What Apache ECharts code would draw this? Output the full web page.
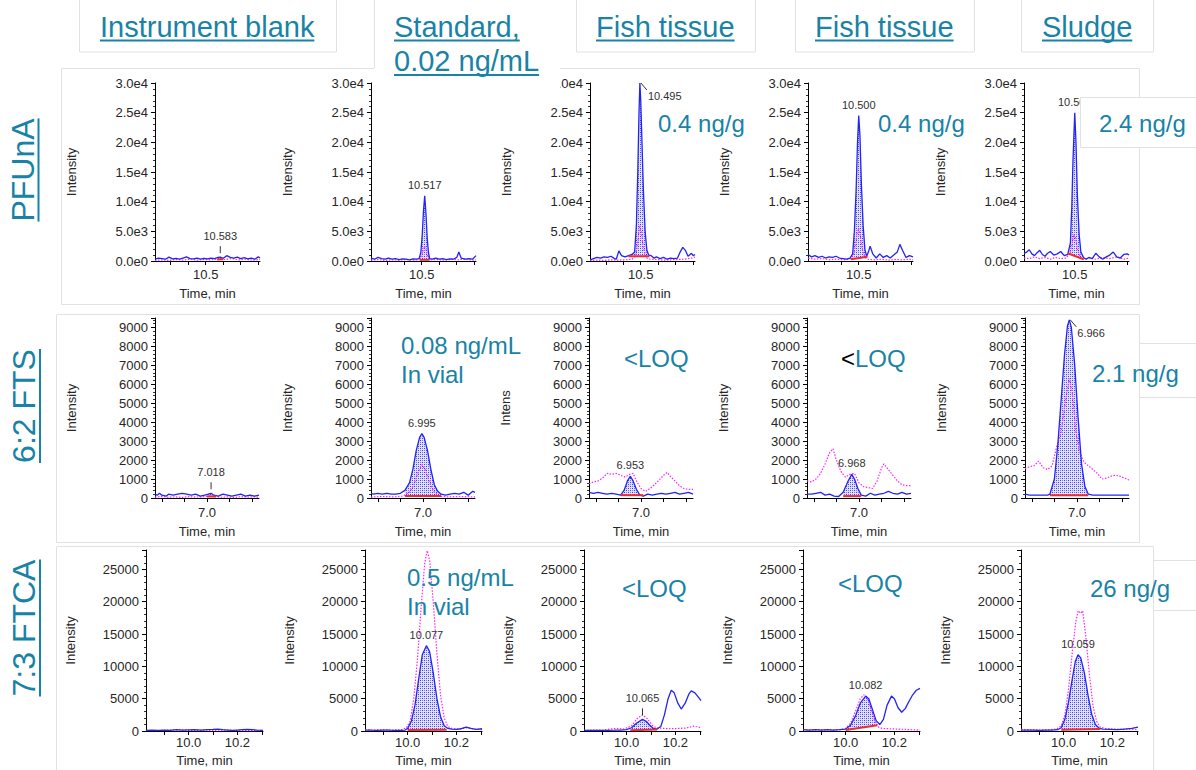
<!DOCTYPE html>
<html>
<head>
<meta charset="utf-8">
<title>PFAS chromatograms</title>
<script src="https://cdn.jsdelivr.net/npm/echarts@6/dist/echarts.min.js"></script>
<style>
  html, body { margin: 0; padding: 0; background: #ffffff; }
  #chart { width: 1196px; height: 770px; }
</style>
</head>
<body>
<div id="chart"></div>
<script>
// ---------------- captions ----------------
const sampleTitles = [['Instrument blank'], ['Standard,', '0.02 ng/mL'], ['Fish tissue'], ['Fish tissue'], ['Sludge']];
const analytes = ['PFUnA', '6:2 FTS', '7:3 FTCA'];

// ---------------- axis scales ----------------
const pfunaTime = [10.21, 10.81];
const pfunaIntensity = [0, 30000, 5000];
const pfunaXLabels = [10.5];
const pfunaXTicks = [10.3, 10.4, 10.5, 10.6, 10.7, 10.8];

const ftsTime = [6.77, 7.23];
const ftsIntensity = [0, 9500, 1000];
const ftsXLabels = [7.0];
const ftsXTicks = [6.8, 6.9, 7.0, 7.1, 7.2];

const ftcaTime = [9.825, 10.305];
const ftcaIntensity = [0, 28000, 5000];
const ftcaXLabels = [10.0, 10.2];
const ftcaXTicks = [9.9, 10.0, 10.1, 10.2, 10.3];

// ---------------- PFUnA traces: [time, intensity] ----------------
const pfuna_blank_quant = [[10.21,300],[10.23,500],[10.25,400],[10.27,300],[10.29,650],[10.31,350],[10.33,450],[10.35,300],[10.37,500],[10.39,700],[10.41,400],[10.43,350],[10.45,500],[10.47,300],[10.49,450],[10.51,350],[10.53,500],[10.55,400],[10.57,600],[10.583,650],[10.60,450],[10.62,900],[10.64,600],[10.66,500],[10.68,650],[10.70,400],[10.72,550],[10.74,350],[10.76,500],[10.78,300],[10.80,700],[10.81,500]];
const pfuna_blank_qual = [[10.21,100],[10.25,200],[10.29,100],[10.33,250],[10.37,150],[10.41,300],[10.45,150],[10.49,250],[10.53,200],[10.57,350],[10.61,250],[10.65,400],[10.69,200],[10.73,300],[10.77,150],[10.81,250]];
const pfuna_blank_base = [[10.565,250],[10.60,300]];
const pfuna_blank_rt = [10.583, 650];

const pfuna_std_quant = [[10.21,500],[10.23,300],[10.25,600],[10.27,400],[10.29,300],[10.31,500],[10.33,300],[10.35,400],[10.37,250],[10.39,350],[10.41,300],[10.43,200],[10.45,350],[10.47,300],[10.485,400],[10.495,1500],[10.503,4500],[10.51,8500],[10.517,11000],[10.524,8000],[10.531,4000],[10.538,1500],[10.545,400],[10.56,300],[10.58,500],[10.60,300],[10.62,400],[10.64,250],[10.66,350],[10.68,300],[10.70,600],[10.712,1500],[10.725,500],[10.75,300],[10.77,400],[10.79,300],[10.81,900]];
const pfuna_std_qual = [[10.21,150],[10.25,250],[10.29,100],[10.33,200],[10.37,150],[10.41,250],[10.45,150],[10.48,200],[10.50,900],[10.51,2000],[10.517,2500],[10.525,1800],[10.535,700],[10.55,200],[10.59,250],[10.63,150],[10.67,300],[10.71,200],[10.75,300],[10.79,150],[10.81,200]];
const pfuna_std_base = [[10.488,200],[10.545,200]];
const pfuna_std_rt = [10.517, 11000];

const pfuna_fish1_quant = [[10.21,200],[10.23,400],[10.25,600],[10.27,500],[10.29,700],[10.31,600],[10.33,800],[10.35,400],[10.36,300],[10.375,1700],[10.39,900],[10.41,700],[10.43,900],[10.45,1100],[10.465,1500],[10.475,6000],[10.483,15000],[10.49,25000],[10.495,30000],[10.50,27000],[10.507,20000],[10.515,12000],[10.525,5000],[10.535,1800],[10.545,1000],[10.56,900],[10.575,500],[10.59,700],[10.61,400],[10.63,600],[10.65,300],[10.67,500],[10.69,400],[10.71,500],[10.725,1500],[10.74,2300],[10.755,1800],[10.77,800],[10.79,1300],[10.80,900],[10.81,1100]];
const pfuna_fish1_qual = [[10.21,100],[10.25,150],[10.29,100],[10.33,200],[10.37,150],[10.41,200],[10.45,300],[10.47,800],[10.48,2500],[10.49,5000],[10.495,6000],[10.505,4500],[10.515,2200],[10.53,600],[10.55,300],[10.59,250],[10.63,150],[10.67,200],[10.71,250],[10.75,300],[10.79,500],[10.81,650]];
const pfuna_fish1_base = [[10.43,800],[10.55,800]];
const pfuna_fish1_rt = [10.495, 30000];

const pfuna_fish2_quant = [[10.21,1100],[10.23,700],[10.25,900],[10.27,600],[10.29,800],[10.31,500],[10.33,700],[10.35,600],[10.37,800],[10.39,500],[10.41,400],[10.43,300],[10.45,500],[10.465,1200],[10.475,5000],[10.485,12000],[10.493,20000],[10.50,24500],[10.507,21000],[10.515,13000],[10.525,6000],[10.535,2000],[10.545,800],[10.555,1500],[10.565,2500],[10.58,1200],[10.60,500],[10.62,1200],[10.64,600],[10.66,900],[10.68,500],[10.70,1000],[10.72,1500],[10.735,2800],[10.75,1800],[10.77,600],[10.79,900],[10.81,700]];
const pfuna_fish2_qual = [[10.21,500],[10.25,300],[10.29,400],[10.33,200],[10.37,300],[10.41,200],[10.45,300],[10.47,1000],[10.48,2500],[10.49,4500],[10.50,5500],[10.51,4000],[10.52,2000],[10.535,600],[10.55,300],[10.59,200],[10.63,300],[10.67,150],[10.71,250],[10.75,200],[10.79,300],[10.81,200]];
const pfuna_fish2_base = [[10.455,300],[10.55,700]];
const pfuna_fish2_rt = [10.500, 24500];

const pfuna_sludge_quant = [[10.21,1300],[10.225,1500],[10.24,1900],[10.255,1200],[10.27,900],[10.285,1400],[10.30,1800],[10.315,1100],[10.33,800],[10.345,1300],[10.36,1600],[10.38,1000],[10.40,1200],[10.42,1600],[10.44,900],[10.46,1100],[10.475,3000],[10.483,9000],[10.49,17000],[10.50,25000],[10.507,20000],[10.515,11000],[10.525,4500],[10.535,1500],[10.55,600],[10.565,300],[10.58,600],[10.60,400],[10.62,1300],[10.64,700],[10.66,300],[10.68,700],[10.70,1000],[10.72,1500],[10.74,700],[10.76,500],[10.78,1100],[10.80,1200],[10.81,1000]];
const pfuna_sludge_qual = [[10.21,500],[10.24,400],[10.27,700],[10.30,400],[10.33,600],[10.36,300],[10.39,600],[10.42,400],[10.45,500],[10.47,1200],[10.485,2800],[10.495,4500],[10.505,3800],[10.515,2000],[10.53,700],[10.55,300],[10.58,500],[10.62,300],[10.66,600],[10.70,400],[10.74,700],[10.78,300],[10.81,500]];
const pfuna_sludge_base = [[10.46,1300],[10.55,300]];
const pfuna_sludge_rt = [10.500, 25000];

// ---------------- 6:2 FTS traces ----------------
const fts_blank_quant = [[6.77,200],[6.78,150],[6.79,250],[6.80,150],[6.82,100],[6.83,200],[6.85,150],[6.87,200],[6.89,250],[6.91,200],[6.93,150],[6.95,200],[6.97,100],[6.99,150],[7.005,200],[7.018,250],[7.03,150],[7.05,100],[7.07,200],[7.09,150],[7.11,100],[7.13,150],[7.15,200],[7.17,100],[7.19,150],[7.21,100],[7.23,150]];
const fts_blank_qual = [[6.77,50],[6.80,80],[6.83,40],[6.86,60],[6.89,30],[6.92,70],[6.95,50],[6.98,60],[7.01,120],[7.03,80],[7.06,40],[7.09,60],[7.12,30],[7.15,70],[7.18,50],[7.21,60],[7.23,40]];
const fts_blank_base = [[7.0,80],[7.04,80]];
const fts_blank_rt = [7.018, 250];

const fts_std_quant = [[6.77,250],[6.78,200],[6.80,250],[6.82,200],[6.84,250],[6.86,200],[6.88,200],[6.90,250],[6.92,400],[6.94,800],[6.955,1500],[6.97,2500],[6.985,3200],[6.995,3400],[7.005,3200],[7.02,2500],[7.035,1500],[7.05,700],[7.065,350],[7.08,200],[7.10,150],[7.12,200],[7.14,250],[7.16,200],[7.18,300],[7.20,150],[7.21,250],[7.22,350],[7.23,300]];
const fts_std_qual = [[6.77,50],[6.82,80],[6.87,60],[6.91,100],[6.94,300],[6.96,700],[6.98,1400],[6.995,1750],[7.01,1500],[7.03,800],[7.05,300],[7.07,100],[7.11,60],[7.16,80],[7.23,60]];
const fts_std_base = [[6.92,100],[7.08,100]];
const fts_std_rt = [6.995, 3400];

const fts_fish1_quant = [[6.77,300],[6.79,250],[6.81,300],[6.83,250],[6.85,200],[6.87,250],[6.89,200],[6.91,150],[6.925,400],[6.94,900],[6.953,1150],[6.965,900],[6.98,450],[6.995,150],[7.01,100],[7.03,200],[7.05,150],[7.07,200],[7.09,250],[7.11,200],[7.13,250],[7.15,300],[7.17,200],[7.19,250],[7.21,300],[7.23,200]];
const fts_fish1_qual = [[6.77,750],[6.79,850],[6.81,900],[6.83,1050],[6.85,1300],[6.87,1250],[6.89,1300],[6.91,1200],[6.93,1100],[6.95,1250],[6.965,1300],[6.98,900],[7.00,500],[7.02,350],[7.04,500],[7.06,700],[7.08,950],[7.10,1200],[7.115,1350],[7.13,1150],[7.15,900],[7.17,650],[7.19,500],[7.21,450],[7.23,450]];
const fts_fish1_base = [[6.91,150],[7.01,150]];
const fts_fish1_rt = [6.953, 1150];

const fts_fish2_quant = [[6.77,200],[6.79,200],[6.81,250],[6.83,300],[6.85,150],[6.87,200],[6.89,100],[6.91,80],[6.93,300],[6.95,850],[6.968,1250],[6.98,1000],[6.995,500],[7.01,150],[7.03,100],[7.05,250],[7.07,150],[7.09,200],[7.11,250],[7.13,350],[7.15,250],[7.17,200],[7.19,300],[7.21,200],[7.23,250]];
const fts_fish2_qual = [[6.77,900],[6.79,850],[6.81,1000],[6.83,1300],[6.85,1800],[6.87,2400],[6.885,2600],[6.90,2000],[6.92,1400],[6.94,1100],[6.96,1250],[6.98,1300],[7.00,800],[7.02,600],[7.04,550],[7.06,500],[7.08,900],[7.10,1600],[7.11,1800],[7.13,1500],[7.15,1200],[7.17,900],[7.19,700],[7.21,650],[7.23,650]];
const fts_fish2_base = [[6.93,100],[7.01,100]];
const fts_fish2_rt = [6.968, 1250];

const fts_sludge_quant = [[6.77,200],[6.79,150],[6.81,150],[6.83,150],[6.85,150],[6.87,150],[6.88,200],[6.90,1000],[6.915,2800],[6.93,5200],[6.945,7600],[6.958,9100],[6.966,9400],[6.975,9000],[6.99,7000],[7.005,4200],[7.02,1800],[7.035,600],[7.05,200],[7.07,150],[7.10,150],[7.13,150],[7.16,150],[7.19,150],[7.23,150]];
const fts_sludge_qual = [[6.77,1550],[6.79,1650],[6.81,1700],[6.83,1950],[6.85,1600],[6.87,1500],[6.89,1700],[6.91,2700],[6.93,3500],[6.95,5200],[6.966,6300],[6.98,5500],[6.995,3500],[7.01,2500],[7.03,1900],[7.05,1700],[7.07,1500],[7.09,1300],[7.11,1000],[7.13,1050],[7.15,1150],[7.17,1200],[7.19,1150],[7.21,1050],[7.23,950]];
const fts_sludge_base = [[6.88,150],[7.05,150]];
const fts_sludge_rt = [6.966, 9400];

// ---------------- 7:3 FTCA traces ----------------
const ftca_blank_quant = [[9.825,100],[9.85,150],[9.875,100],[9.90,120],[9.925,100],[9.95,200],[9.975,150],[10.0,180],[10.025,200],[10.05,150],[10.075,200],[10.10,250],[10.12,300],[10.14,200],[10.16,150],[10.18,100],[10.20,150],[10.22,200],[10.24,250],[10.26,200],[10.28,150],[10.305,100]];
const ftca_blank_qual = [[9.825,80],[9.86,60],[9.90,100],[9.94,200],[9.97,150],[10.0,100],[10.03,80],[10.07,120],[10.10,100],[10.14,150],[10.18,80],[10.22,100],[10.26,60],[10.305,100]];

const ftca_std_quant = [[9.825,150],[9.85,120],[9.875,100],[9.90,150],[9.925,120],[9.95,100],[9.975,100],[9.99,150],[10.0,400],[10.015,1500],[10.03,4000],[10.045,8000],[10.06,11800],[10.077,13200],[10.09,12300],[10.105,9000],[10.12,5000],[10.135,2200],[10.15,800],[10.165,400],[10.18,300],[10.20,250],[10.22,350],[10.24,600],[10.26,400],[10.28,250],[10.305,350]];
const ftca_std_qual = [[9.825,200],[9.86,150],[9.90,200],[9.94,150],[9.975,200],[9.995,500],[10.01,1500],[10.025,5000],[10.04,11000],[10.055,19000],[10.07,26000],[10.08,27900],[10.09,26500],[10.105,20000],[10.12,12000],[10.135,5500],[10.15,2000],[10.165,700],[10.18,400],[10.21,300],[10.24,500],[10.27,300],[10.305,200]];
const ftca_std_base = [[10.0,150],[10.16,200]];
const ftca_std_rt = [10.077, 13200];

const ftca_fish1_quant = [[9.825,100],[9.85,80],[9.875,100],[9.90,90],[9.925,100],[9.95,120],[9.975,150],[10.0,200],[10.02,500],[10.04,1200],[10.065,1800],[10.08,1500],[10.095,900],[10.11,400],[10.125,300],[10.14,700],[10.155,2500],[10.17,5000],[10.183,6300],[10.195,5900],[10.21,4300],[10.224,3400],[10.24,4300],[10.255,5700],[10.265,6200],[10.28,5900],[10.295,5200],[10.305,4700]];
const ftca_fish1_qual = [[9.825,100],[9.86,150],[9.90,120],[9.93,300],[9.96,400],[9.99,300],[10.02,800],[10.045,2000],[10.065,2500],[10.085,1900],[10.105,900],[10.12,500],[10.15,400],[10.18,350],[10.21,400],[10.24,450],[10.26,600],[10.275,750],[10.29,650],[10.305,500]];
const ftca_fish1_base = [[10.015,100],[10.125,250]];
const ftca_fish1_rt = [10.065, 1800];

const ftca_fish2_quant = [[9.825,200],[9.85,150],[9.875,200],[9.90,150],[9.925,200],[9.95,150],[9.975,200],[10.0,300],[10.02,900],[10.04,2300],[10.06,4300],[10.082,5400],[10.095,5000],[10.11,3300],[10.125,1600],[10.14,1000],[10.155,1800],[10.17,4000],[10.188,5400],[10.20,5000],[10.215,3600],[10.23,2900],[10.245,3500],[10.26,4600],[10.275,5600],[10.29,6300],[10.305,6600]];
const ftca_fish2_qual = [[9.825,200],[9.86,150],[9.90,200],[9.94,150],[9.98,200],[10.0,400],[10.02,1200],[10.04,3000],[10.06,5000],[10.075,5600],[10.09,5000],[10.105,3300],[10.12,1500],[10.135,600],[10.15,400],[10.18,350],[10.21,300],[10.24,250],[10.27,200],[10.305,150]];
const ftca_fish2_base = [[10.0,150],[10.13,900]];
const ftca_fish2_rt = [10.082, 5400];

const ftca_sludge_quant = [[9.825,150],[9.85,120],[9.875,150],[9.90,100],[9.925,150],[9.95,120],[9.975,200],[9.99,500],[10.005,1800],[10.02,4500],[10.035,8000],[10.048,10800],[10.059,11800],[10.07,11300],[10.085,9000],[10.10,5500],[10.115,2600],[10.13,1000],[10.145,450],[10.16,300],[10.19,250],[10.22,200],[10.25,300],[10.28,400],[10.305,600]];
const ftca_sludge_qual = [[9.825,250],[9.86,200],[9.90,150],[9.94,200],[9.97,300],[9.99,800],[10.005,2500],[10.02,6500],[10.035,12000],[10.05,17000],[10.06,18600],[10.07,18200],[10.078,18600],[10.09,15000],[10.105,9000],[10.12,4000],[10.135,1500],[10.15,600],[10.17,400],[10.20,300],[10.24,250],[10.27,300],[10.305,200]];
const ftca_sludge_base = [[9.99,200],[10.15,300]];
const ftca_sludge_rt = [10.059, 11800];

// ---------------- reported amounts ----------------
const amounts = [
  [null, null, ['0.4 ng/g'], ['0.4 ng/g'], ['2.4 ng/g']],
  [null, ['0.08 ng/mL', 'In vial'], ['<LOQ'], ['<LOQ'], ['2.1 ng/g']],
  [null, ['0.5 ng/mL', 'In vial'], ['<LOQ'], ['<LOQ'], ['26 ng/g']]
];

// ---------------- assembly table ----------------
const rowsData = [
  { time: pfunaTime, inten: pfunaIntensity, xLabels: pfunaXLabels, xTicks: pfunaXTicks, expo: true,
    panels: [
      { q: pfuna_blank_quant, c: pfuna_blank_qual, base: pfuna_blank_base, rt: pfuna_blank_rt },
      { q: pfuna_std_quant, c: pfuna_std_qual, base: pfuna_std_base, rt: pfuna_std_rt },
      { q: pfuna_fish1_quant, c: pfuna_fish1_qual, base: pfuna_fish1_base, rt: pfuna_fish1_rt },
      { q: pfuna_fish2_quant, c: pfuna_fish2_qual, base: pfuna_fish2_base, rt: pfuna_fish2_rt },
      { q: pfuna_sludge_quant, c: pfuna_sludge_qual, base: pfuna_sludge_base, rt: pfuna_sludge_rt }
    ] },
  { time: ftsTime, inten: ftsIntensity, xLabels: ftsXLabels, xTicks: ftsXTicks, expo: false,
    panels: [
      { q: fts_blank_quant, c: fts_blank_qual, base: fts_blank_base, rt: fts_blank_rt },
      { q: fts_std_quant, c: fts_std_qual, base: fts_std_base, rt: fts_std_rt },
      { q: fts_fish1_quant, c: fts_fish1_qual, base: fts_fish1_base, rt: fts_fish1_rt },
      { q: fts_fish2_quant, c: fts_fish2_qual, base: fts_fish2_base, rt: fts_fish2_rt },
      { q: fts_sludge_quant, c: fts_sludge_qual, base: fts_sludge_base, rt: fts_sludge_rt }
    ] },
  { time: ftcaTime, inten: ftcaIntensity, xLabels: ftcaXLabels, xTicks: ftcaXTicks, expo: false,
    panels: [
      { q: ftca_blank_quant, c: ftca_blank_qual, base: null, rt: null },
      { q: ftca_std_quant, c: ftca_std_qual, base: ftca_std_base, rt: ftca_std_rt },
      { q: ftca_fish1_quant, c: ftca_fish1_qual, base: ftca_fish1_base, rt: ftca_fish1_rt },
      { q: ftca_fish2_quant, c: ftca_fish2_qual, base: ftca_fish2_base, rt: ftca_fish2_rt },
      { q: ftca_sludge_quant, c: ftca_sludge_qual, base: ftca_sludge_base, rt: ftca_sludge_rt }
    ] }
];

// ---------------- layout & style ----------------
const FONT = '"Liberation Sans", Arial, Helvetica, sans-serif';
const TEAL = '#1883a6';
const BLUE = '#2424f2';
const MAGENTA = '#ff22ff';
const RED = '#f02b2b';
const AXIS_TEXT = '#262626';
const TITLE_SIZE = 29;

const layout = {
  tops: [83, 318, 550],
  heights: [178, 180, 181],
  widths: [105, 104, 117],
  lefts: [[155, 371, 590, 808, 1024], [155, 371, 589, 807, 1025], [146, 365, 584, 803, 1021]],
  yNameGap: [77, 77, 69],
  xNameGap: [26, 27, 23],
  xLabelMargin: [7, 8, 5],
  tagKinds: [['tick', 'plain', 'leader', 'plain', 'plain'], ['tick', 'plain', 'plain', 'plain', 'leader'], [null, 'plain', 'tick', 'plain', 'plain']],
  yNames: [['Intensity', 'Intensity', 'Intensity', 'Intensity', 'Intensity'], ['Intensity', 'Intensity', 'Intens', 'Intensity', 'Intensity'], ['Intensity', 'Intensity', 'Intensity', 'Intensity', 'Intensity']]
};

// dotted blue fill used for integrated peak areas
const hatchCanvas = document.createElement('canvas');
hatchCanvas.width = 4; hatchCanvas.height = 4;
const hctx = hatchCanvas.getContext('2d');
hctx.fillStyle = 'rgba(225,225,255,1)';
hctx.fillRect(0, 0, 4, 4);
hctx.fillStyle = 'rgba(60,60,235,1)';
hctx.fillRect(0, 0, 1, 1); hctx.fillRect(2, 2, 1, 1);
hctx.fillStyle = 'rgba(120,120,240,1)';
hctx.fillRect(2, 0, 1, 1); hctx.fillRect(0, 2, 1, 1);
const HATCH = { image: hatchCanvas.toDataURL(), repeat: 'repeat' };

const measureCtx = document.createElement('canvas').getContext('2d');
function textWidth(str, size) {
  measureCtx.font = size + 'px "Liberation Sans", Arial, sans-serif';
  return measureCtx.measureText(str).width;
}

function fillSeries(idx, quant, base) {
  const t0 = base[0][0], b0 = base[0][1], t1 = base[1][0], b1 = base[1][1];
  return {
    type: 'custom', xAxisIndex: idx, yAxisIndex: idx, z: 1, silent: true,
    data: [[t0, b0]],
    renderItem: function (params, api) {
      const pts = [api.coord([t0, b0])];
      quant.forEach(function (p) { if (p[0] >= t0 && p[0] <= t1) pts.push(api.coord(p)); });
      pts.push(api.coord([t1, b1]));
      return { type: 'polygon', shape: { points: pts }, style: { fill: HATCH, stroke: null } };
    }
  };
}

function tagSeries(idx, rt, kind) {
  return {
    type: 'custom', xAxisIndex: idx, yAxisIndex: idx, z: 6, silent: true,
    data: [rt],
    renderItem: function (params, api) {
      const t = api.value(0);
      const p = api.coord([t, api.value(1)]);
      const label = t.toFixed(3);
      const ts = { fontSize: 11, fontFamily: FONT, fill: '#303030' };
      const kids = [];
      if (kind === 'tick') {
        kids.push({ type: 'line', shape: { x1: p[0], y1: p[1] - 4, x2: p[0], y2: p[1] - 11 }, style: { stroke: '#333', lineWidth: 1 } });
        kids.push({ type: 'text', style: Object.assign({ text: label, x: p[0], y: p[1] - 21, align: 'center', verticalAlign: 'middle' }, ts) });
      } else if (kind === 'leader') {
        kids.push({ type: 'line', shape: { x1: p[0] + 1, y1: p[1], x2: p[0] + 7, y2: p[1] + 7 }, style: { stroke: '#333', lineWidth: 1 } });
        kids.push({ type: 'text', style: Object.assign({ text: label, x: p[0] + 8, y: p[1] + 13, align: 'left', verticalAlign: 'middle' }, ts) });
      } else {
        kids.push({ type: 'text', style: Object.assign({ text: label, x: p[0], y: p[1] - 11, align: 'center', verticalAlign: 'middle' }, ts) });
      }
      return { type: 'group', children: kids };
    }
  };
}

const option = {
  animation: false,
  backgroundColor: '#ffffff',
  textStyle: { fontFamily: FONT },
  grid: [], xAxis: [], yAxis: [], series: [], graphic: []
};

rowsData.forEach(function (row, r) {
  row.panels.forEach(function (p, c) {
    const idx = r * 5 + c;
    option.grid.push({ left: layout.lefts[r][c], top: layout.tops[r], width: layout.widths[r], height: layout.heights[r], containLabel: false });
    option.xAxis.push({
      gridIndex: idx, type: 'value', min: row.time[0], max: row.time[1],
      axisLine: { show: true, onZero: false, lineStyle: { color: '#000', width: 1 } },
      axisTick: { show: true, customValues: row.xTicks, length: 4, lineStyle: { color: '#000' } },
      axisLabel: { customValues: row.xLabels, formatter: function (v) { return v.toFixed(1); }, color: AXIS_TEXT, fontSize: 13, margin: layout.xLabelMargin[r], fontFamily: FONT },
      splitLine: { show: false },
      name: 'Time, min', nameLocation: 'middle', nameGap: layout.xNameGap[r],
      nameTextStyle: { color: AXIS_TEXT, fontSize: 13, fontFamily: FONT }
    });
    option.yAxis.push({
      gridIndex: idx, type: 'value', min: row.inten[0], max: row.inten[1], interval: row.inten[2],
      axisLine: { show: true, lineStyle: { color: '#000', width: 1 } },
      axisTick: { show: true, length: 4, lineStyle: { color: '#000' } },
      minorTick: { show: true, splitNumber: 5, length: 2, lineStyle: { color: '#333' } },
      axisLabel: {
        color: AXIS_TEXT, fontSize: 13, margin: 7, fontFamily: FONT, showMaxLabel: row.inten[1] % row.inten[2] === 0,
        formatter: row.expo ? function (v) { return v.toExponential(1).replace('+', ''); } : function (v) { return String(v); }
      },
      splitLine: { show: false },
      name: layout.yNames[r][c], nameLocation: 'middle', nameRotate: 90, nameGap: layout.yNameGap[r],
      nameTextStyle: { color: AXIS_TEXT, fontSize: 13, fontFamily: FONT }
    });
    if (p.base) option.series.push(fillSeries(idx, p.q, p.base));
    option.series.push({
      type: 'line', xAxisIndex: idx, yAxisIndex: idx, data: p.c, symbol: 'none', silent: true, z: 3,
      lineStyle: { color: MAGENTA, width: 1.2, type: [1.5, 1.5] }
    });
    option.series.push({
      type: 'line', xAxisIndex: idx, yAxisIndex: idx, data: p.q, symbol: 'none', silent: true, z: 4,
      lineStyle: { color: BLUE, width: 1.3 }
    });
    if (p.base) option.series.push({
      type: 'line', xAxisIndex: idx, yAxisIndex: idx, data: p.base, symbol: 'none', silent: true, z: 5,
      lineStyle: { color: RED, width: 2 }
    });
    if (p.rt) option.series.push(tagSeries(idx, p.rt, layout.tagKinds[r][c]));
  });
});

// ---------------- frames, captions and reported amounts ----------------
const G = option.graphic;
const FAINT = '#e2e2e2';
function rect(x, y, w, h, fill, stroke, z) {
  G.push({ type: 'rect', silent: true, z: z, shape: { x: x, y: y, width: w, height: h }, style: { fill: fill, stroke: stroke, lineWidth: 1 } });
}
function seg(x1, y1, x2, y2, color, width, z) {
  G.push({ type: 'line', silent: true, z: z, shape: { x1: x1, y1: y1, x2: x2, y2: y2 }, style: { stroke: color, lineWidth: width } });
}
function label(text, x, y, size, color, align, z, rotation) {
  G.push({ type: 'text', silent: true, z: z, x: x, y: y, rotation: rotation || 0,
    style: { text: text, x: 0, y: 0, fontSize: size, fontFamily: FONT, fill: color, align: align, verticalAlign: 'middle' } });
}

// analyte row frames
rect(61.5, 68.5, 1078, 236, 'none', FAINT, -5);
rect(56.5, 314.5, 1083, 228, 'none', FAINT, -5);
rect(56.5, 546.5, 1097, 230, 'none', FAINT, -5);

// sample column caption boxes
rect(79.5, -1, 257, 53, '#fff', FAINT, 40);
rect(374, -1, 186, 92, '#fff', null, 40);
seg(374.5, 0, 374.5, 68, FAINT, 1, 41);
rect(576.5, -1, 179, 53, '#fff', FAINT, 40);
rect(795.5, -1, 179, 53, '#fff', FAINT, 40);
rect(1021.5, -1, 132, 53, '#fff', FAINT, 40);

// sample captions (underlined)
const titleLeft = [100, 394, 596, 815, 1042];
sampleTitles.forEach(function (lines, i) {
  lines.forEach(function (t, k) {
    const cy = k === 0 ? 26.5 : 61;
    label(t, titleLeft[i], cy, TITLE_SIZE, TEAL, 'left', 50);
    seg(titleLeft[i], cy + 14, titleLeft[i] + textWidth(t, TITLE_SIZE), cy + 14, TEAL, 2, 50);
  });
});

// analyte names, rotated, underlined
const analyteCenter = [[22.5, 170], [24, 406], [24, 628]];
analytes.forEach(function (a, i) {
  const cx = analyteCenter[i][0], cy = analyteCenter[i][1];
  label(a, cx, cy, 32, TEAL, 'center', 50, Math.PI / 2);
  const w = textWidth(a, 32);
  seg(cx + 16, cy - w / 2, cx + 16, cy + w / 2, TEAL, 2, 50);
});

// boxes behind the sludge amounts
rect(1080.5, 97.5, 130, 50, '#fff', FAINT, 40);
seg(1139, 343.5, 1196, 343.5, FAINT, 1, 40);
seg(1139, 397.5, 1196, 397.5, FAINT, 1, 40);
seg(1153, 560.5, 1196, 560.5, FAINT, 1, 40);
seg(1153, 610.5, 1196, 610.5, FAINT, 1, 40);

// reported amounts
const amountPos = [
  [null, null, [658, 123], [878, 123], [1099, 123]],
  [null, [401, 345], [624, 358], [841, 358], [1092, 373]],
  [null, [407, 577], [622, 588], [838, 583], [1090, 588]]
];
amounts.forEach(function (row, r) {
  row.forEach(function (lines, c) {
    if (!lines) return;
    const pos = amountPos[r][c];
    lines.forEach(function (t, k) {
      if (t === '<LOQ' && r === 1 && c === 3) {
        G.push({ type: 'text', silent: true, z: 50, x: pos[0], y: pos[1],
          style: { text: '{k|<}{t|LOQ}', x: 0, y: 0, align: 'left', verticalAlign: 'middle',
            rich: { k: { fill: '#000', fontSize: 24, fontFamily: FONT }, t: { fill: TEAL, fontSize: 24, fontFamily: FONT } } } });
      } else {
        label(t, pos[0], pos[1] + k * 29, 24, TEAL, 'left', 50);
      }
    });
  });
});

const chart = echarts.init(document.getElementById('chart'), null, { renderer: 'svg', width: 1196, height: 770 });
chart.setOption(option);
</script>
</body>
</html>
